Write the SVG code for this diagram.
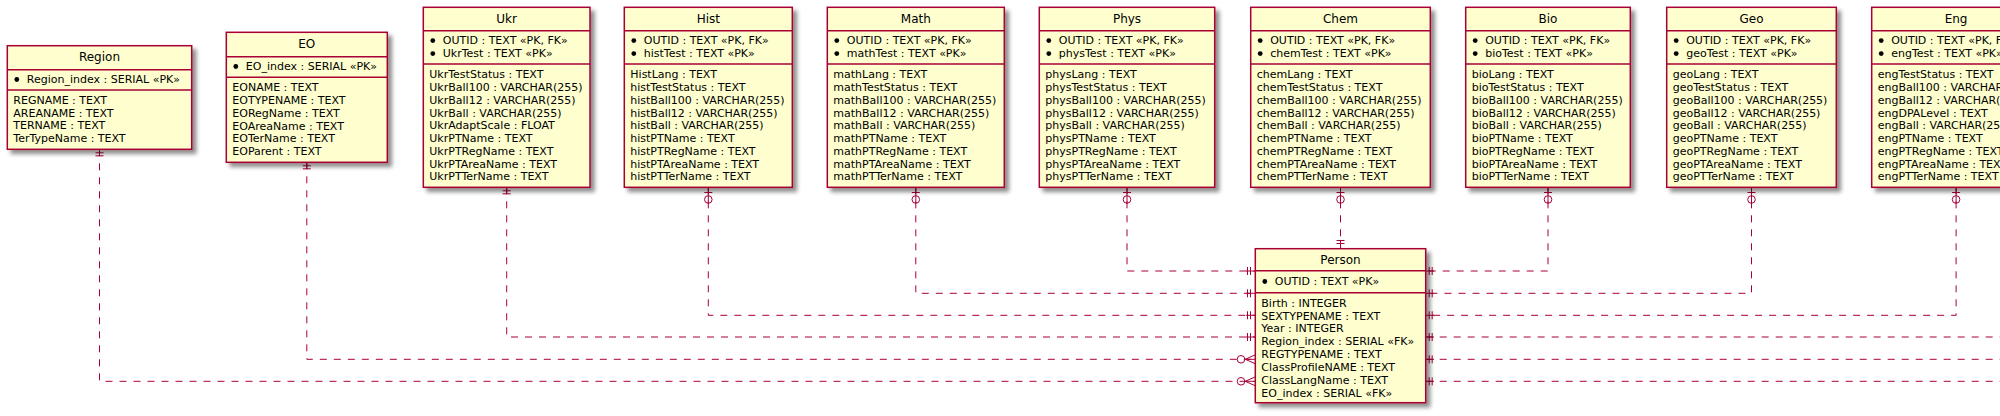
<svg xmlns="http://www.w3.org/2000/svg" width="2000" height="416" viewBox="0 0 2000 416">
<defs>
<filter id="sh" x="-10%" y="-10%" width="130%" height="130%">
<feGaussianBlur in="SourceAlpha" stdDeviation="2"/>
<feOffset dx="4" dy="4" result="o"/>
<feComponentTransfer><feFuncA type="linear" slope="0.45"/></feComponentTransfer>
<feMerge><feMergeNode/><feMergeNode in="SourceGraphic"/></feMerge>
</filter>
<style>
.box{fill:#FEFECE;stroke:#A80036;stroke-width:1.5;filter:url(#sh)}
.sep{stroke:#A80036;stroke-width:1.5}
text{font-family:"DejaVu Sans","Liberation Sans",sans-serif;font-size:11px;fill:#000}
.h{font-size:12px;text-anchor:middle}
.b{fill:#000}
.c{fill:none;stroke:#A80036;stroke-width:1;stroke-dasharray:7,7}
.m{fill:none;stroke:#A80036;stroke-width:1}
</style>
</defs>
<rect width="2000" height="416" fill="#FFFFFF"/>

<g id="connectors">
<path class="c" d="M99.5,149.3 V381.3 H1255.3"/>
<path class="c" d="M306.8,162.3 V359.3 H1255.3"/>
<path class="c" d="M506.7,187.3 V337 H1255.3"/>
<path class="c" d="M708.3,187.3 V315.3 H1255.3"/>
<path class="c" d="M915.8,187.3 V293.3 H1255.3"/>
<path class="c" d="M1127,187.3 V271 H1255.3"/>
<path class="c" d="M1340.5,187.3 V248.7"/>
<path class="c" d="M1548,187.3 V271 H1425.7"/>
<path class="c" d="M1751.5,187.3 V293.3 H1425.7"/>
<path class="c" d="M1956.1,187.3 V315.3 H1425.7"/>
<path class="c" d="M1425.7,337 H2010"/>
<path class="c" d="M1425.7,359.3 H2010"/>
<path class="c" d="M1425.7,381.3 H2010"/>
<!-- || at table bottoms -->
<path class="m" d="M99.5,149.3 V156 M95.5,152.8 H103.5 M95.5,155.8 H103.5"/>
<path class="m" d="M306.8,162.3 V169 M302.8,165.8 H310.8 M302.8,168.8 H310.8"/>
<path class="m" d="M506.7,187.3 V194 M502.7,190.8 H510.7 M502.7,193.8 H510.7"/>
<!-- |o at table bottoms -->
<path class="m" d="M708.3,187.3 V203.3 M704.3,192.5 H712.3"/><circle class="m" cx="708.3" cy="199.5" r="3.8"/>
<path class="m" d="M915.8,187.3 V203.3 M911.8,192.5 H919.8"/><circle class="m" cx="915.8" cy="199.5" r="3.8"/>
<path class="m" d="M1127,187.3 V203.3 M1123,192.5 H1131"/><circle class="m" cx="1127" cy="199.5" r="3.8"/>
<path class="m" d="M1340.5,187.3 V203.3 M1336.5,192.5 H1344.5"/><circle class="m" cx="1340.5" cy="199.5" r="3.8"/>
<path class="m" d="M1548,187.3 V203.3 M1544,192.5 H1552"/><circle class="m" cx="1548" cy="199.5" r="3.8"/>
<path class="m" d="M1751.5,187.3 V203.3 M1747.5,192.5 H1755.5"/><circle class="m" cx="1751.5" cy="199.5" r="3.8"/>
<path class="m" d="M1956.1,187.3 V203.3 M1952.1,192.5 H1960.1"/><circle class="m" cx="1956.1" cy="199.5" r="3.8"/>
<!-- Person top || -->
<path class="m" d="M1340.5,240 V248.7 M1336.5,240.5 H1344.5 M1336.5,243.5 H1344.5"/>
<!-- Person left || -->
<path class="m" d="M1246,271 H1255.3 M1247.5,267 V275 M1250.5,267 V275"/>
<path class="m" d="M1246,293.3 H1255.3 M1247.5,289.3 V297.3 M1250.5,289.3 V297.3"/>
<path class="m" d="M1246,315.3 H1255.3 M1247.5,311.3 V319.3 M1250.5,311.3 V319.3"/>
<path class="m" d="M1246,337 H1255.3 M1247.5,333 V341 M1250.5,333 V341"/>
<!-- Person left o< -->
<circle class="m" cx="1241" cy="359.3" r="3.8"/><path class="m" d="M1255.3,354.8 L1245.3,359.3 L1255.3,363.8 M1245.3,359.3 H1255.3"/>
<circle class="m" cx="1241" cy="381.3" r="3.8"/><path class="m" d="M1255.3,376.8 L1245.3,381.3 L1255.3,385.8 M1245.3,381.3 H1255.3"/>
<!-- Person right || -->
<path class="m" d="M1425.7,271 H1434 M1429.2,267 V275 M1432.2,267 V275"/>
<path class="m" d="M1425.7,293.3 H1434 M1429.2,289.3 V297.3 M1432.2,289.3 V297.3"/>
<path class="m" d="M1425.7,315.3 H1434 M1429.2,311.3 V319.3 M1432.2,311.3 V319.3"/>
<path class="m" d="M1425.7,337 H1434 M1429.2,333 V341 M1432.2,333 V341"/>
<path class="m" d="M1425.7,359.3 H1434 M1429.2,355.3 V363.3 M1432.2,355.3 V363.3"/>
<path class="m" d="M1425.7,381.3 H1434 M1429.2,377.3 V385.3 M1432.2,377.3 V385.3"/>
</g>

<g id="Region" transform="translate(7.3,45.7)">
<rect class="box" x="0" y="0" width="184.4" height="103.6"/>
<line class="sep" x1="0" y1="24" x2="184.4" y2="24"/>
<line class="sep" x1="0" y1="44.3" x2="184.4" y2="44.3"/>
<text class="h" x="92.2" y="15.6">Region</text>
<circle class="b" cx="9.5" cy="33.8" r="2.4"/>
<text x="19.5" y="37.6">Region_index : SERIAL «PK»</text>
<text x="6" y="58">REGNAME : TEXT</text>
<text x="6" y="70.9">AREANAME : TEXT</text>
<text x="6" y="83.8">TERNAME : TEXT</text>
<text x="6" y="96.7">TerTypeName : TEXT</text>
</g>

<g id="EO" transform="translate(226.3,32.3)">
<rect class="box" x="0" y="0" width="161" height="130"/>
<line class="sep" x1="0" y1="24.4" x2="161" y2="24.4"/>
<line class="sep" x1="0" y1="45" x2="161" y2="45"/>
<text class="h" x="80.5" y="15.6">EO</text>
<circle class="b" cx="9.5" cy="34.2" r="2.4"/>
<text x="19.5" y="38">EO_index : SERIAL «PK»</text>
<text x="6" y="58.6">EONAME : TEXT</text>
<text x="6" y="71.5">EOTYPENAME : TEXT</text>
<text x="6" y="84.4">EORegName : TEXT</text>
<text x="6" y="97.3">EOAreaName : TEXT</text>
<text x="6" y="110.2">EOTerName : TEXT</text>
<text x="6" y="123.1">EOParent : TEXT</text>
</g>

<g id="Ukr" transform="translate(423.3,7.3)">
<rect class="box" x="0" y="0" width="166.7" height="180"/>
<line class="sep" x1="0" y1="23.4" x2="166.7" y2="23.4"/>
<line class="sep" x1="0" y1="56.7" x2="166.7" y2="56.7"/>
<text class="h" x="83.35" y="15.5">Ukr</text>
<circle class="b" cx="9.5" cy="33.3" r="2.4"/><text x="19.5" y="37">OUTID : TEXT «PK, FK»</text>
<circle class="b" cx="9.5" cy="46.3" r="2.4"/><text x="19.5" y="50">UkrTest : TEXT «PK»</text>
<text x="6" y="71">UkrTestStatus : TEXT</text>
<text x="6" y="83.75">UkrBall100 : VARCHAR(255)</text>
<text x="6" y="96.5">UkrBall12 : VARCHAR(255)</text>
<text x="6" y="109.25">UkrBall : VARCHAR(255)</text>
<text x="6" y="122">UkrAdaptScale : FLOAT</text>
<text x="6" y="134.75">UkrPTName : TEXT</text>
<text x="6" y="147.5">UkrPTRegName : TEXT</text>
<text x="6" y="160.25">UkrPTAreaName : TEXT</text>
<text x="6" y="173">UkrPTTerName : TEXT</text>
</g>

<g id="Hist" transform="translate(624.3,7.3)">
<rect class="box" x="0" y="0" width="168" height="180"/>
<line class="sep" x1="0" y1="23.4" x2="168" y2="23.4"/>
<line class="sep" x1="0" y1="56.7" x2="168" y2="56.7"/>
<text class="h" x="84" y="15.5">Hist</text>
<circle class="b" cx="9.5" cy="33.3" r="2.4"/><text x="19.5" y="37">OUTID : TEXT «PK, FK»</text>
<circle class="b" cx="9.5" cy="46.3" r="2.4"/><text x="19.5" y="50">histTest : TEXT «PK»</text>
<text x="6" y="71">HistLang : TEXT</text>
<text x="6" y="83.75">histTestStatus : TEXT</text>
<text x="6" y="96.5">histBall100 : VARCHAR(255)</text>
<text x="6" y="109.25">histBall12 : VARCHAR(255)</text>
<text x="6" y="122">histBall : VARCHAR(255)</text>
<text x="6" y="134.75">histPTName : TEXT</text>
<text x="6" y="147.5">histPTRegName : TEXT</text>
<text x="6" y="160.25">histPTAreaName : TEXT</text>
<text x="6" y="173">histPTTerName : TEXT</text>
</g>

<g id="Math" transform="translate(827.3,7.3)">
<rect class="box" x="0" y="0" width="177" height="180"/>
<line class="sep" x1="0" y1="23.4" x2="177" y2="23.4"/>
<line class="sep" x1="0" y1="56.7" x2="177" y2="56.7"/>
<text class="h" x="88.5" y="15.5">Math</text>
<circle class="b" cx="9.5" cy="33.3" r="2.4"/><text x="19.5" y="37">OUTID : TEXT «PK, FK»</text>
<circle class="b" cx="9.5" cy="46.3" r="2.4"/><text x="19.5" y="50">mathTest : TEXT «PK»</text>
<text x="6" y="71">mathLang : TEXT</text>
<text x="6" y="83.75">mathTestStatus : TEXT</text>
<text x="6" y="96.5">mathBall100 : VARCHAR(255)</text>
<text x="6" y="109.25">mathBall12 : VARCHAR(255)</text>
<text x="6" y="122">mathBall : VARCHAR(255)</text>
<text x="6" y="134.75">mathPTName : TEXT</text>
<text x="6" y="147.5">mathPTRegName : TEXT</text>
<text x="6" y="160.25">mathPTAreaName : TEXT</text>
<text x="6" y="173">mathPTTerName : TEXT</text>
</g>

<g id="Phys" transform="translate(1039.3,7.3)">
<rect class="box" x="0" y="0" width="175.4" height="180"/>
<line class="sep" x1="0" y1="23.4" x2="175.4" y2="23.4"/>
<line class="sep" x1="0" y1="56.7" x2="175.4" y2="56.7"/>
<text class="h" x="87.7" y="15.5">Phys</text>
<circle class="b" cx="9.5" cy="33.3" r="2.4"/><text x="19.5" y="37">OUTID : TEXT «PK, FK»</text>
<circle class="b" cx="9.5" cy="46.3" r="2.4"/><text x="19.5" y="50">physTest : TEXT «PK»</text>
<text x="6" y="71">physLang : TEXT</text>
<text x="6" y="83.75">physTestStatus : TEXT</text>
<text x="6" y="96.5">physBall100 : VARCHAR(255)</text>
<text x="6" y="109.25">physBall12 : VARCHAR(255)</text>
<text x="6" y="122">physBall : VARCHAR(255)</text>
<text x="6" y="134.75">physPTName : TEXT</text>
<text x="6" y="147.5">physPTRegName : TEXT</text>
<text x="6" y="160.25">physPTAreaName : TEXT</text>
<text x="6" y="173">physPTTerName : TEXT</text>
</g>

<g id="Chem" transform="translate(1250.7,7.3)">
<rect class="box" x="0" y="0" width="179.6" height="180"/>
<line class="sep" x1="0" y1="23.4" x2="179.6" y2="23.4"/>
<line class="sep" x1="0" y1="56.7" x2="179.6" y2="56.7"/>
<text class="h" x="89.8" y="15.5">Chem</text>
<circle class="b" cx="9.5" cy="33.3" r="2.4"/><text x="19.5" y="37">OUTID : TEXT «PK, FK»</text>
<circle class="b" cx="9.5" cy="46.3" r="2.4"/><text x="19.5" y="50">chemTest : TEXT «PK»</text>
<text x="6" y="71">chemLang : TEXT</text>
<text x="6" y="83.75">chemTestStatus : TEXT</text>
<text x="6" y="96.5">chemBall100 : VARCHAR(255)</text>
<text x="6" y="109.25">chemBall12 : VARCHAR(255)</text>
<text x="6" y="122">chemBall : VARCHAR(255)</text>
<text x="6" y="134.75">chemPTName : TEXT</text>
<text x="6" y="147.5">chemPTRegName : TEXT</text>
<text x="6" y="160.25">chemPTAreaName : TEXT</text>
<text x="6" y="173">chemPTTerName : TEXT</text>
</g>

<g id="Bio" transform="translate(1465.7,7.3)">
<rect class="box" x="0" y="0" width="164.6" height="180"/>
<line class="sep" x1="0" y1="23.4" x2="164.6" y2="23.4"/>
<line class="sep" x1="0" y1="56.7" x2="164.6" y2="56.7"/>
<text class="h" x="82.3" y="15.5">Bio</text>
<circle class="b" cx="9.5" cy="33.3" r="2.4"/><text x="19.5" y="37">OUTID : TEXT «PK, FK»</text>
<circle class="b" cx="9.5" cy="46.3" r="2.4"/><text x="19.5" y="50">bioTest : TEXT «PK»</text>
<text x="6" y="71">bioLang : TEXT</text>
<text x="6" y="83.75">bioTestStatus : TEXT</text>
<text x="6" y="96.5">bioBall100 : VARCHAR(255)</text>
<text x="6" y="109.25">bioBall12 : VARCHAR(255)</text>
<text x="6" y="122">bioBall : VARCHAR(255)</text>
<text x="6" y="134.75">bioPTName : TEXT</text>
<text x="6" y="147.5">bioPTRegName : TEXT</text>
<text x="6" y="160.25">bioPTAreaName : TEXT</text>
<text x="6" y="173">bioPTTerName : TEXT</text>
</g>

<g id="Geo" transform="translate(1666.7,7.3)">
<rect class="box" x="0" y="0" width="169.6" height="180"/>
<line class="sep" x1="0" y1="23.4" x2="169.6" y2="23.4"/>
<line class="sep" x1="0" y1="56.7" x2="169.6" y2="56.7"/>
<text class="h" x="84.8" y="15.5">Geo</text>
<circle class="b" cx="9.5" cy="33.3" r="2.4"/><text x="19.5" y="37">OUTID : TEXT «PK, FK»</text>
<circle class="b" cx="9.5" cy="46.3" r="2.4"/><text x="19.5" y="50">geoTest : TEXT «PK»</text>
<text x="6" y="71">geoLang : TEXT</text>
<text x="6" y="83.75">geoTestStatus : TEXT</text>
<text x="6" y="96.5">geoBall100 : VARCHAR(255)</text>
<text x="6" y="109.25">geoBall12 : VARCHAR(255)</text>
<text x="6" y="122">geoBall : VARCHAR(255)</text>
<text x="6" y="134.75">geoPTName : TEXT</text>
<text x="6" y="147.5">geoPTRegName : TEXT</text>
<text x="6" y="160.25">geoPTAreaName : TEXT</text>
<text x="6" y="173">geoPTTerName : TEXT</text>
</g>

<g id="Eng" transform="translate(1871.7,7.3)">
<rect class="box" x="0" y="0" width="168.8" height="180"/>
<line class="sep" x1="0" y1="23.4" x2="168.8" y2="23.4"/>
<line class="sep" x1="0" y1="56.7" x2="168.8" y2="56.7"/>
<text class="h" x="84.4" y="15.5">Eng</text>
<circle class="b" cx="9.5" cy="33.3" r="2.4"/><text x="19.5" y="37">OUTID : TEXT «PK, FK»</text>
<circle class="b" cx="9.5" cy="46.3" r="2.4"/><text x="19.5" y="50">engTest : TEXT «PK»</text>
<text x="6" y="71">engTestStatus : TEXT</text>
<text x="6" y="83.75">engBall100 : VARCHAR(255)</text>
<text x="6" y="96.5">engBall12 : VARCHAR(255)</text>
<text x="6" y="109.25">engDPALevel : TEXT</text>
<text x="6" y="122">engBall : VARCHAR(255)</text>
<text x="6" y="134.75">engPTName : TEXT</text>
<text x="6" y="147.5">engPTRegName : TEXT</text>
<text x="6" y="160.25">engPTAreaName : TEXT</text>
<text x="6" y="173">engPTTerName : TEXT</text>
</g>

<g id="Person" transform="translate(1255.3,248.7)">
<rect class="box" x="0" y="0" width="170.4" height="154"/>
<line class="sep" x1="0" y1="22" x2="170.4" y2="22"/>
<line class="sep" x1="0" y1="44" x2="170.4" y2="44"/>
<text class="h" x="85.2" y="15.3">Person</text>
<circle class="b" cx="9.5" cy="32.8" r="2.4"/><text x="19.5" y="36.6">OUTID : TEXT «PK»</text>
<text x="6" y="58">Birth : INTEGER</text>
<text x="6" y="70.86">SEXTYPENAME : TEXT</text>
<text x="6" y="83.72">Year : INTEGER</text>
<text x="6" y="96.58">Region_index : SERIAL «FK»</text>
<text x="6" y="109.44">REGTYPENAME : TEXT</text>
<text x="6" y="122.3">ClassProfileNAME : TEXT</text>
<text x="6" y="135.16">ClassLangName : TEXT</text>
<text x="6" y="148">EO_index : SERIAL «FK»</text>
</g>
</svg>
